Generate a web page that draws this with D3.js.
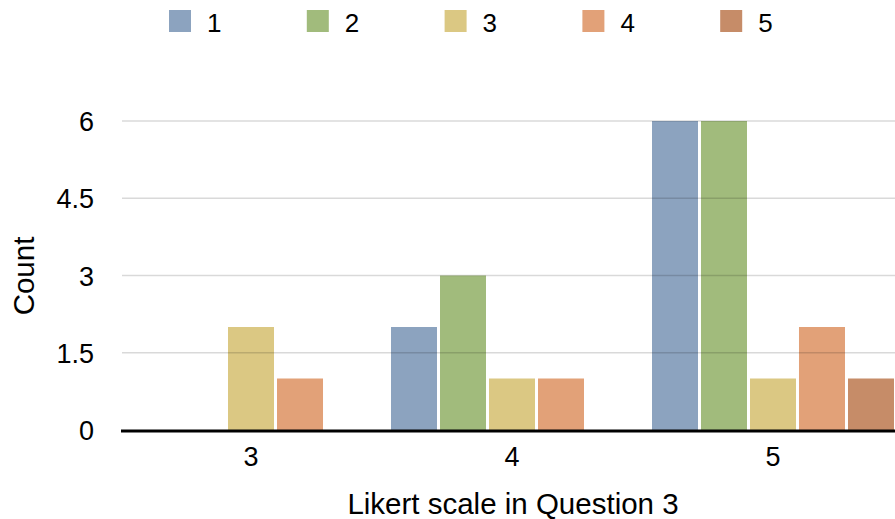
<!DOCTYPE html>
<html><head><meta charset="utf-8">
<script src="https://cdn.jsdelivr.net/npm/d3@7"></script>
<style>body{margin:0;background:#fff}svg{display:block;font-family:"Liberation Sans",Arial,Helvetica,sans-serif}</style>
</head><body><svg id="c" width="895" height="519"></svg>
<script>
const categories = ["3", "4", "5"];
const seriesNames = ["1", "2", "3", "4", "5"];
const seriesValues = {
  "1": [0, 2, 6],
  "2": [0, 3, 6],
  "3": [2, 1, 1],
  "4": [1, 1, 2],
  "5": [0, 0, 1]
};
const yTicks = [0, 1.5, 3, 4.5, 6];
const yTickLabels = ["0", "1.5", "3", "4.5", "6"];
const colors = ["#8ca3bf", "#a1bb7c", "#dbc883", "#e2a178", "#c68c68"];
const xTitle = "Likert scale in Question 3";
const yTitle = "Count";

const svg = d3.select("#c");
const plotLeft = 122, baseY = 430, topY = 121;
const y = d3.scaleLinear().domain([0, 6]).range([baseY, topY]);
const x0 = d3.scaleBand().domain(categories).range([plotLeft, 902]).paddingInner(0.0728).paddingOuter(0.0307);
const x1 = d3.scaleBand().domain(seriesNames).range([0, x0.bandwidth()]).paddingInner(0.0612).paddingOuter(0);
const color = d3.scaleOrdinal().domain(seriesNames).range(colors);

// bars
const rows = [];
categories.forEach((c, i) => seriesNames.forEach(s => rows.push({c, s, v: seriesValues[s][i]})));
svg.append("g").selectAll("rect").data(rows.filter(d => d.v > 0)).join("rect")
  .attr("x", d => x0(d.c) + x1(d.s))
  .attr("y", d => y(d.v))
  .attr("width", x1.bandwidth())
  .attr("height", d => y(0) - y(d.v))
  .attr("fill", d => color(d.s));

// gridlines (over bars, translucent)
svg.append("g").selectAll("line").data(yTicks.filter(t => t > 0)).join("line")
  .attr("x1", plotLeft).attr("x2", 895)
  .attr("y1", d => y(d)).attr("y2", d => y(d))
  .attr("stroke", "rgba(0,0,0,0.15)").attr("stroke-width", 1.5);

// y axis
const yAxis = d3.axisLeft(y).tickValues(yTicks).tickFormat((d, i) => yTickLabels[i]).tickSize(0).tickPadding(0);
const gy = svg.append("g").attr("transform", `translate(94,0)`).call(yAxis);
gy.select(".domain").remove();
gy.selectAll("text").attr("font-size", 27).attr("fill", "#000").attr("font-family", "Liberation Sans, Arial, sans-serif").attr("dy", "0.36em");

// baseline
svg.append("line").attr("x1", 121).attr("x2", 895).attr("y1", y(0) + 1).attr("y2", y(0) + 1)
  .attr("stroke", "#000").attr("stroke-width", 3);

// x axis
const xAxis = d3.axisBottom(x0).tickSize(0).tickPadding(0);
const gx = svg.append("g").attr("transform", `translate(0,${baseY})`).call(xAxis);
gx.select(".domain").remove();
gx.selectAll("text").attr("font-size", 27).attr("fill", "#000").attr("font-family", "Liberation Sans, Arial, sans-serif")
  .attr("dy", null).attr("y", 36);

// titles
svg.append("text").attr("x", 513).attr("y", 514).attr("text-anchor", "middle")
  .attr("font-size", 29.5).text(xTitle);
svg.append("text").attr("transform", "translate(34,276) rotate(-90)").attr("text-anchor", "middle")
  .attr("font-size", 29.5).text(yTitle);

// legend
const lg = svg.append("g").selectAll("g").data(seriesNames).join("g")
  .attr("transform", (d, i) => `translate(${169 + i * 137.8},10)`);
lg.append("rect").attr("width", 22).attr("height", 22).attr("fill", d => color(d));
lg.append("text").attr("x", 38).attr("y", 22).attr("font-size", 26).text(d => d);
</script></body></html>
